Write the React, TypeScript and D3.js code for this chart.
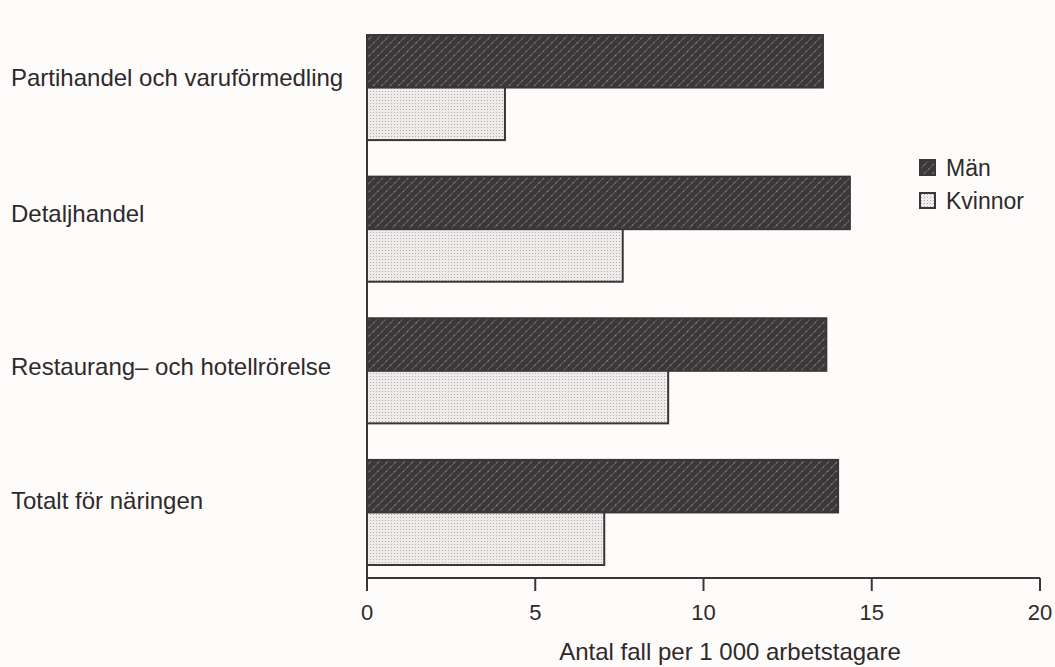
import React from "react";
import * as d3 from "d3";

const categories = [
  "Partihandel och varuförmedling",
  "Detaljhandel",
  "Restaurang– och hotellrörelse",
  "Totalt för näringen",
];
const series = ["Män", "Kvinnor"];
const menValues = [13.55, 14.35, 13.65, 14.0];
const womenValues = [4.1, 7.6, 8.95, 7.05];
const xTicks = [0, 5, 10, 15, 20];
const xTitle = "Antal fall per 1 000 arbetstagare";

// layout-only: vertical nudge of each category label from its group's top
const labelNudge = [45, 39, 50, 43];

const W = 1055;
const H = 667;
const ink = "#3a3536";
const textInk = "#2e2a2b";
const font = "'Liberation Sans', Arial, Helvetica, sans-serif";

export default function App() {
  const x = d3.scaleLinear().domain([0, 20]).range([367, 1040]);
  const y = d3.scaleBand<string>().domain(categories).range([35, 565]).paddingInner(0.258).paddingOuter(0);
  const ySub = d3.scaleBand<string>().domain(series).range([0, y.bandwidth()]).padding(0);
  const fills: Record<string, string> = { "Män": "url(#hatch)", "Kvinnor": "url(#dots)" };
  const rows = categories.map((c, i) => ({ c, vals: [menValues[i], womenValues[i]] }));
  const axisY = 578;

  return (
    <svg width={W} height={H} style={{ position: "absolute", left: 0, top: 0, background: "#fdfcfa" }}>
      <defs>
        <pattern id="hatch" patternUnits="userSpaceOnUse" width="6" height="6" patternTransform="rotate(45)">
          <rect width="6" height="6" fill="#3c3738" />
          <line x1="0" y1="0" x2="0" y2="6" stroke="#c4c0be" strokeWidth="1.2" strokeDasharray="1.2 1.2" />
        </pattern>
        <pattern id="dots" patternUnits="userSpaceOnUse" width="3" height="3">
          <rect width="3" height="3" fill="#efedeb" />
          <circle cx="1.5" cy="1.5" r="0.6" fill="#a9a5a3" />
        </pattern>
      </defs>

      {rows.map((r, i) => (
        <g key={r.c}>
          {series.map((s, j) => (
            <rect
              key={s}
              x={x(0)}
              y={(y(r.c) as number) + (ySub(s) as number)}
              width={x(r.vals[j]) - x(0)}
              height={ySub.bandwidth()}
              fill={fills[s]}
              stroke={ink}
              strokeWidth={2}
            />
          ))}
          <text
            x={11}
            y={(y(r.c) as number) + labelNudge[i]}
            dominantBaseline="middle"
            fontFamily={font}
            fontSize={24}
            fill={textInk}
          >
            {r.c}
          </text>
        </g>
      ))}

      {/* axes */}
      <line x1={x(0)} x2={x(0)} y1={38} y2={axisY} stroke={ink} strokeWidth={2} />
      <line x1={x(0)} x2={x(20)} y1={axisY} y2={axisY} stroke={ink} strokeWidth={2} />
      {xTicks.map((t) => (
        <g key={t}>
          <line x1={x(t)} x2={x(t)} y1={axisY} y2={axisY + 13} stroke={ink} strokeWidth={2} />
          <text x={x(t)} y={axisY + 42} textAnchor="middle" fontFamily={font} fontSize={22} fill={textInk}>
            {t}
          </text>
        </g>
      ))}
      <text x={730} y={660} textAnchor="middle" fontFamily={font} fontSize={24} fill={textInk}>
        {xTitle}
      </text>

      {/* legend */}
      {series.map((s, i) => (
        <g key={s} transform={`translate(920, ${160 + i * 33})`}>
          <rect x={0} y={0} width={15} height={15} fill={fills[s]} stroke={ink} strokeWidth={2} />
          <text x={26} y={16} fontFamily={font} fontSize={23} fill={textInk}>
            {s}
          </text>
        </g>
      ))}
    </svg>
  );
}
